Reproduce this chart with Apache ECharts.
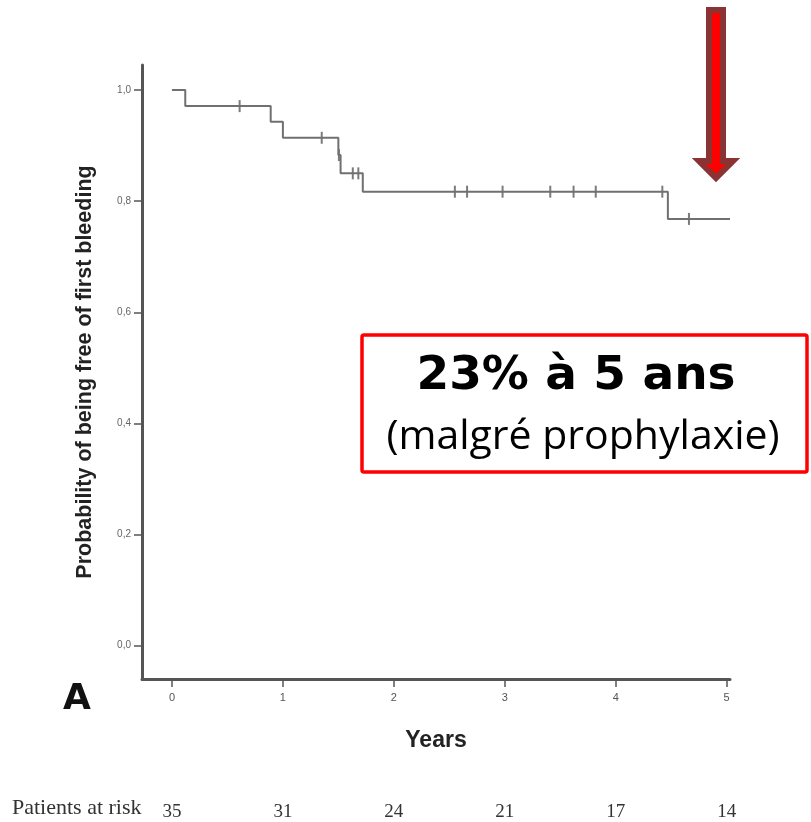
<!DOCTYPE html>
<html>
<head>
<meta charset="utf-8">
<script src="https://cdn.jsdelivr.net/npm/echarts@6/dist/echarts.min.js"></script>
<style>html,body{margin:0;padding:0;background:#fff}#c{width:811px;height:822px}</style>
</head>
<body>
<div id="c"></div>
<script>
// Kaplan-Meier steps: [time (years), survival probability]
var stepTimes = [0, 0.12, 0.89, 1.00, 1.50, 1.52, 1.72, 4.47, 5.03];
var stepValues = [1.0, 0.971, 0.943, 0.914, 0.883, 0.850, 0.817, 0.768, 0.768];
// censored observations
var censorTimes = [0.61, 1.35, 1.505, 1.63, 1.68, 2.55, 2.66, 2.98, 3.41, 3.62, 3.82, 4.42, 4.66];
var censorValues = [0.971, 0.914, 0.883, 0.850, 0.850, 0.817, 0.817, 0.817, 0.817, 0.817, 0.817, 0.817, 0.768];
// axis ticks
var yearTicks = [0, 1, 2, 3, 4, 5];
var probTicks = [0.0, 0.2, 0.4, 0.6, 0.8, 1.0];
// patients at risk under each year
var atRisk = [35, 31, 24, 21, 17, 14];

var kmData = stepTimes.map(function (t, i) { return [t, stepValues[i]]; });
var censorData = censorTimes.map(function (t, i) { return [t, censorValues[i]]; });

var chart = echarts.init(document.getElementById('c'));
chart.setOption({
  animation: false,
  backgroundColor: '#ffffff',
  grid: { left: 142, right: 81, top: 65, bottom: 142 },
  xAxis: [{
    type: 'value', min: -0.27, max: 5.03, interval: 1,
    name: 'Years', nameLocation: 'middle', nameGap: 50,
    nameTextStyle: { fontFamily: 'Liberation Sans', fontWeight: 'bold', fontSize: 23, color: '#222' },
    axisLine: { show: true, onZero: false, lineStyle: { color: '#555', width: 3 } },
    axisTick: { show: true, inside: false, length: 8, lineStyle: { color: '#555', width: 1.5 }, customValues: yearTicks },
    axisLabel: { fontFamily: 'Liberation Sans', fontSize: 11, color: '#555', margin: 13, customValues: yearTicks,
      formatter: function (v) { return String(v); } },
    splitLine: { show: false }
  }, {
    type: 'value', min: -0.27, max: 5.03, interval: 1, position: 'bottom', offset: 116,
    axisLine: { show: false }, axisTick: { show: false }, splitLine: { show: false },
    axisLabel: { fontFamily: 'Liberation Serif', fontSize: 19, color: '#333', customValues: yearTicks,
      formatter: function (v) { var i = yearTicks.indexOf(Math.round(v)); return i >= 0 ? String(atRisk[i]) : ''; } }
  }],
  yAxis: {
    type: 'value', min: -0.06, max: 1.045,
    name: 'Probability of being free of first bleeding', nameLocation: 'middle', nameGap: 46, nameRotate: 90,
    nameTextStyle: { fontFamily: 'Liberation Sans', fontWeight: 'bold', fontSize: 21.5, color: '#222' },
    axisLine: { show: true, onZero: false, lineStyle: { color: '#555', width: 3 } },
    axisTick: { show: true, length: 8, lineStyle: { color: '#555', width: 1.5 }, customValues: probTicks },
    axisLabel: { fontFamily: 'Liberation Sans', fontSize: 10, color: '#666', margin: 11, customValues: probTicks,
      formatter: function (v) { return v.toFixed(1).replace('.', ','); } },
    splitLine: { show: false }
  },
  series: [{
    type: 'line', step: 'end', data: kmData, showSymbol: false, symbol: 'none',
    lineStyle: { color: '#707070', width: 2 }
  }, {
    type: 'scatter', data: censorData, symbol: 'rect', symbolSize: [2, 12],
    itemStyle: { color: '#5a5a5a' }
  }],
  graphic: [
    { type: 'text', left: 12, top: 797, style: { text: 'Patients at risk', font: '22px "Liberation Serif"', fill: '#333' } },
    { type: 'text', left: 63, top: 682, style: { text: 'A', font: 'bold 36px "DejaVu Sans"', fill: '#111' } },
    { type: 'rect', shape: { x: 362, y: 335, width: 445, height: 137, r: 2 },
      style: { fill: '#fff', stroke: '#ff0000', lineWidth: 3.5 } },
    { type: 'text', x: 576, y: 377, style: { text: '23% à 5 ans', font: 'bold 47px "DejaVu Sans"', fill: '#000', textAlign: 'center', textVerticalAlign: 'middle' } },
    { type: 'text', x: 583, y: 437, style: { text: '(malgré prophylaxie)', font: '41px "Open Sans"', fill: '#000', textAlign: 'center', textVerticalAlign: 'middle' } },
    { type: 'polygon', shape: { points: [[709, 10], [723, 10], [723, 161], [733, 161], [716, 178], [699, 161], [709, 161]] },
      style: { fill: '#ff0000', stroke: '#8b3333', lineWidth: 6, lineJoin: 'miter' } }
  ]
});
</script>
</body>
</html>
